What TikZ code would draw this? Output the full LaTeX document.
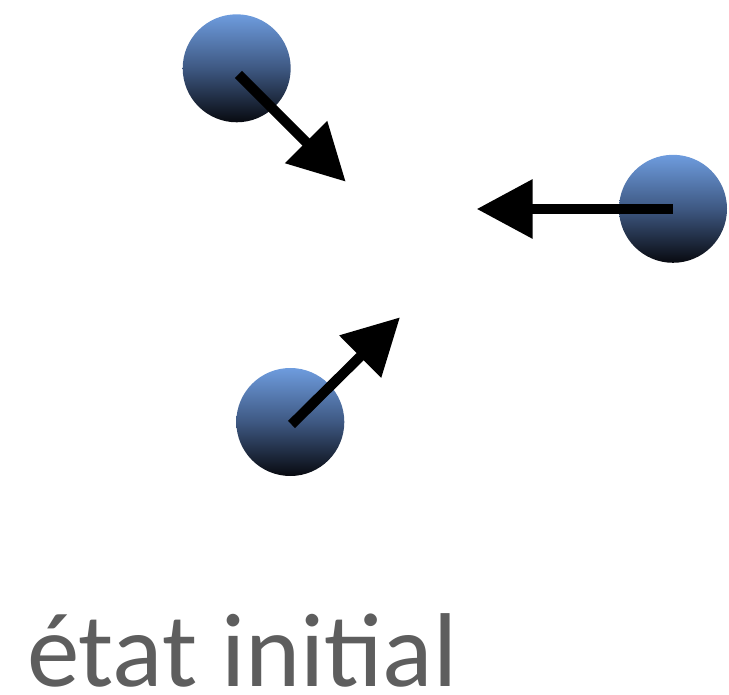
\documentclass[tikz,border=0pt]{standalone}
\usepackage{fontspec}
\setmainfont{Carlito}
\usetikzlibrary{arrows.meta}
\definecolor{balltop}{RGB}{110,156,222}
\definecolor{ballmid}{RGB}{62,88,130}
\definecolor{ballbot}{RGB}{8,10,16}
\definecolor{labelgray}{RGB}{94,94,94}
\tikzset{
  ball/.style={circle,minimum size=108pt,inner sep=0pt,
    top color=balltop,bottom color=ballbot,middle color=ballmid},
  push/.style={line width=10pt,-{Triangle[length=56pt,width=57pt]}},
}
\begin{document}
\begin{tikzpicture}[x=1pt,y=-1pt]
\useasboundingbox (0,0) rectangle (729,695);
\node[ball] (b1) at (236.7,68.3) {};
\node[ball] (b2) at (673,208.8) {};
\node[ball] (b3) at (290.3,422) {};
\coordinate (t1) at (345.7,181.7);
\coordinate (t2) at (476.7,209);
\coordinate (t3) at (400,317.3);
\coordinate (s1) at (238.5,74.5);
\coordinate (s2) at (672.7,209);
\coordinate (s3) at (291.5,424.5);
\draw[push] (s1) -- (t1);
\draw[push] (s2) -- (t2);
\draw[push] (s3) -- (t3);
\node[anchor=base west,inner sep=0pt,text depth=0pt,text=labelgray,font=\fontsize{105}{110}\selectfont] (lbl) at (27,686) {état initial};
\end{tikzpicture}
\end{document}
